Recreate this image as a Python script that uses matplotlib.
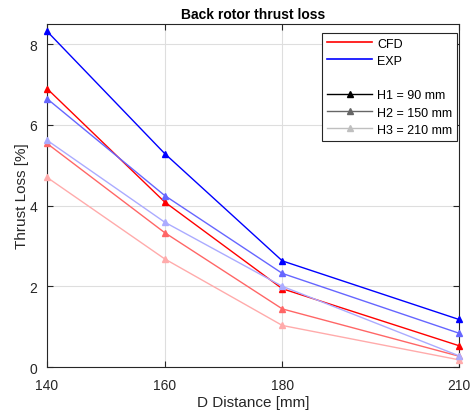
import matplotlib
matplotlib.use("Agg")
import matplotlib.pyplot as plt
from matplotlib.lines import Line2D

plt.rcParams['font.family'] = ['Liberation Sans', 'DejaVu Sans']

# data
dist = [140, 160, 180, 210]
cfd_h1 = [6.90, 4.09, 1.94, 0.53]
cfd_h2 = [5.54, 3.33, 1.44, 0.27]
cfd_h3 = [4.70, 2.68, 1.03, 0.18]
exp_h1 = [8.32, 5.29, 2.63, 1.18]
exp_h2 = [6.65, 4.25, 2.32, 0.84]
exp_h3 = [5.62, 3.59, 2.00, 0.28]
heights = ['H1 = 90 mm', 'H2 = 150 mm', 'H3 = 210 mm']

reds = [(1, 0, 0), (1, 0.4, 0.4), (1, 0.67, 0.67)]
blues = [(0, 0, 1), (0.4, 0.4, 1), (0.67, 0.67, 1)]
grays = [(0, 0, 0), (0.4, 0.4, 0.4), (0.75, 0.75, 0.75)]

fig = plt.figure(figsize=(4.74, 4.14), dpi=100)
ax = fig.add_axes([0.0992, 0.111, 0.8688, 0.8286])

for ys, c in zip([cfd_h1, cfd_h2, cfd_h3], reds):
    ax.plot(dist, ys, color=c, marker='^', markersize=5, linewidth=1, clip_on=False, zorder=3)
for ys, c in zip([exp_h1, exp_h2, exp_h3], blues):
    ax.plot(dist, ys, color=c, marker='^', markersize=5, linewidth=1, clip_on=False, zorder=3)

ax.set_xlim(140, 210)
ax.set_ylim(0, 8.5)
ax.set_xticks(dist)
ax.set_yticks([0, 2, 4, 6, 8])
ax.grid(True, color=(0.87, 0.87, 0.87), linewidth=0.8)
ax.set_axisbelow(True)
ax.tick_params(direction='in', top=True, right=True, labelsize=10, colors=(0.15, 0.15, 0.15), length=4)
ax.tick_params(axis='x', pad=8)
ax.tick_params(axis='y', pad=7)
for s in ax.spines.values():
    s.set_color((0.15, 0.15, 0.15))
    s.set_linewidth(0.8)

ax.set_xlabel('D Distance [mm]', fontsize=11, color=(0.15, 0.15, 0.15), labelpad=2)
ax.set_ylabel('Thrust Loss [%]', fontsize=11, color=(0.15, 0.15, 0.15), labelpad=0)
ax.set_title('Back rotor thrust loss', fontsize=10, fontweight='bold', pad=4)

handles = [Line2D([], [], color='r', lw=1.2), Line2D([], [], color='b', lw=1.2),
           Line2D([], [], color='none')]
labels = ['CFD', 'EXP', ' ']
for c, lab in zip(grays, heights):
    handles.append(Line2D([], [], color=c, marker='^', markersize=5, lw=1))
    labels.append(lab)
leg = ax.legend(handles, labels, loc='upper right', bbox_to_anchor=(0.996, 0.975), fontsize=9,
                fancybox=False, framealpha=1, edgecolor=(0.15, 0.15, 0.15), handlelength=3.6,
                borderaxespad=0.0, labelspacing=0.42, handletextpad=0.4)
leg.get_frame().set_linewidth(0.8)

fig.savefig('out.png', dpi=100)
